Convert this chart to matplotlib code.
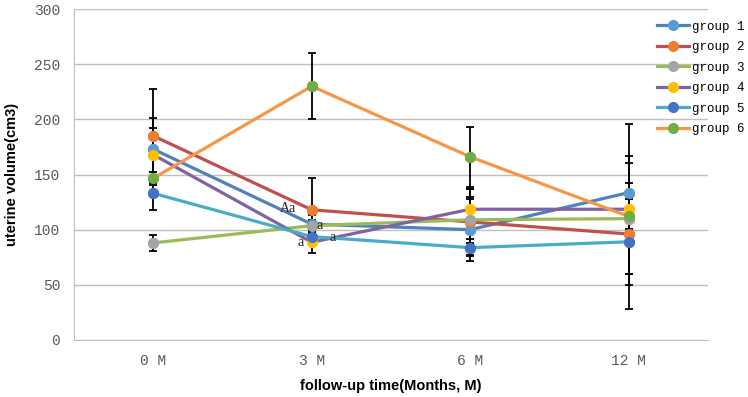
import matplotlib
matplotlib.use("Agg")
import matplotlib.pyplot as plt
import numpy as np

# data
months = ["0 M", "3 M", "6 M", "12 M"]
groups = ["group 1", "group 2", "group 3", "group 4", "group 5", "group 6"]

g1 = [173, 105, 100, 133.6]
g2 = [185, 118, 107, 96]
g3 = [88, 103.6, 109, 110]
g4 = [168, 88.6, 118.5, 118.5]
g5 = [133, 93.7, 83.7, 89]
g6 = [146.6, 230, 166, 112]

e1 = [28, 8, 28, 33]
e2 = [42.5, 28.6, 30, 36]
e3 = [7, 5, 21, 50]
e4 = [24.5, 9.6, 18, 23.5]
e5 = [15, 6, 8, 39]
e6 = [6, 30, 27.5, 84]

values = [g1, g2, g3, g4, g5, g6]
errors = [e1, e2, e3, e4, e5, e6]

# excel mixes line colours and marker colours
line_colors = ["#4F81BD", "#C0504D", "#9BBB59", "#8064A2", "#4BACC6", "#F79646"]
marker_colors = ["#5B9BD5", "#ED7D31", "#A5A5A5", "#FFC000", "#4472C4", "#70AD47"]

# significance letters (text, x index, y value)
notes = [("Aa", 0.85, 119), ("a", 1.05, 103.5), ("a", 1.13, 92.5), ("a", 0.93, 88)]

fig = plt.figure(figsize=(7.48, 3.97), dpi=100)
ax = fig.add_axes([0.0989, 0.1436, 0.8476, 0.8337])

x = np.arange(len(months))
for i in range(len(groups)):
    ax.errorbar(x, values[i], yerr=errors[i], fmt="none", ecolor="black",
                elinewidth=1.3, capsize=3, capthick=1.3, zorder=3)
    ax.plot(x, values[i], color=line_colors[i], lw=2.3, zorder=2,
            marker="o", markersize=7, markerfacecolor=marker_colors[i],
            markeredgecolor=marker_colors[i], label=groups[i])
# markers on top of the error bars
for i in range(len(groups)):
    ax.plot(x, values[i], ls="none", marker="o", markersize=7,
            markerfacecolor=marker_colors[i], markeredgecolor=marker_colors[i], zorder=4)

for txt, xx, yy in notes:
    ax.text(xx, yy, txt, ha="center", va="center", fontsize=10,
            family="Liberation Serif", color="#222222", zorder=5)

ax.set_xlim(-0.5, 3.5)
ax.set_ylim(0, 300)
ax.set_yticks(np.arange(0, 301, 50))
ax.set_xticks(x)
ax.set_xticklabels(months)
ax.grid(axis="y", color="#BFBFBF", lw=1)
ax.set_axisbelow(True)
for s in ["top", "right"]:
    ax.spines[s].set_visible(False)
ax.spines["left"].set_color("#BFBFBF")
ax.spines["bottom"].set_color("#BFBFBF")
ax.tick_params(length=0, pad=10, labelsize=10.5, labelcolor="#595959")
for lab in ax.get_xticklabels() + ax.get_yticklabels():
    lab.set_family("Liberation Mono")

ax.set_xlabel("follow-up time(Months, M)", fontsize=10.5, fontweight="bold",
              family="Liberation Sans", labelpad=8)
ax.set_ylabel("uterine volume(cm3)", fontsize=10.5, fontweight="bold",
              family="Liberation Sans", labelpad=11)

leg = fig.legend(loc="upper left", bbox_to_anchor=(0.879, 0.948), frameon=False,
                 prop={"family": "Liberation Mono", "size": 9},
                 handlelength=2.5, handletextpad=0.25, labelspacing=0.68,
                 borderaxespad=0, borderpad=0)

fig.savefig("out.png", dpi=100)
